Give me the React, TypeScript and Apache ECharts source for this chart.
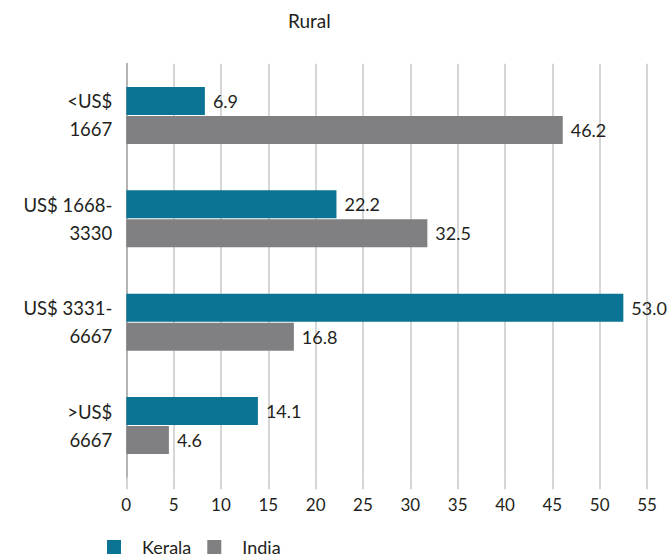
import React, { useEffect, useRef } from "react";
import * as echarts from "echarts";

const categories = ["<US$\n1667", "US$ 1668-\n3330", "US$ 3331-\n6667", ">US$\n6667"];
// bar lengths as drawn in the picture
const keralaValues = [8.3, 22.2, 52.5, 13.9];
const indiaValues = [46.1, 31.8, 17.7, 4.5];
// value labels as printed
const keralaLabels = ["6.9", "22.2", "53.0", "14.1"];
const indiaLabels = ["46.2", "32.5", "16.8", "4.6"];
const xTicks = { min: 0, max: 55, interval: 5 };

const FONT = "Lato";
const TEXT = "#231f20";
const TEAL = "#0b7393";
const GRAY = "#808083";
const GRID = "#c9c9c9";

export default function App() {
  const ref = useRef<HTMLDivElement>(null);
  useEffect(() => {
    if (!ref.current) return;
    const chart = echarts.init(ref.current, null, { renderer: "svg" });
    const labelCfg = (labels: string[]) => ({
      show: true,
      position: "right",
      distance: 8,
      fontSize: 18,
      fontFamily: FONT,
      color: TEXT,
      formatter: (p: any) => labels[p.dataIndex],
    });
    chart.setOption({
      animation: false,
      textStyle: { fontFamily: FONT },
      title: {
        text: "Rural",
        left: 283,
        top: 6,
        textStyle: { fontSize: 19, fontWeight: "normal", color: TEXT, fontFamily: FONT },
      },
      legend: {
        left: 107,
        top: 538,
        padding: 0,
        itemWidth: 14,
        itemHeight: 14,
        itemGap: 16,
        icon: "rect",
        textStyle: { fontSize: 18, color: TEXT, fontFamily: FONT, padding: [0, 0, 0, 16] },
        data: ["Kerala", "India"],
      },
      grid: { left: 126.3, right: 25, top: 63.75, bottom: 82.75, containLabel: false },
      xAxis: {
        type: "value",
        min: xTicks.min,
        max: xTicks.max,
        interval: xTicks.interval,
        axisLine: { show: false },
        axisTick: { show: true, length: 12, lineStyle: { color: GRID, width: 1.5 } },
        splitLine: { show: true, lineStyle: { color: GRID, width: 1.5 } },
        axisLabel: { fontSize: 17, color: TEXT, margin: 19, fontFamily: FONT },
      },
      yAxis: {
        type: "category",
        inverse: true,
        data: categories,
        axisLine: { show: true, lineStyle: { color: "#b4b4b4", width: 2 } },
        axisTick: { show: false },
        axisLabel: {
          fontSize: 18.5,
          lineHeight: 28,
          color: TEXT,
          margin: 14,
          align: "right",
          fontFamily: FONT,
        },
      },
      series: [
        {
          name: "Kerala",
          type: "bar",
          data: keralaValues,
          barWidth: 28,
          barGap: "4%",
          itemStyle: { color: TEAL },
          label: labelCfg(keralaLabels),
        },
        {
          name: "India",
          type: "bar",
          data: indiaValues,
          barWidth: 28,
          barGap: "4%",
          itemStyle: { color: GRAY },
          label: labelCfg(indiaLabels),
        },
      ],
    });
    return () => chart.dispose();
  }, []);
  return (
    <div
      ref={ref}
      style={{ position: "fixed", left: 0, top: 0, width: 672, height: 560, background: "#fff" }}
    />
  );
}
